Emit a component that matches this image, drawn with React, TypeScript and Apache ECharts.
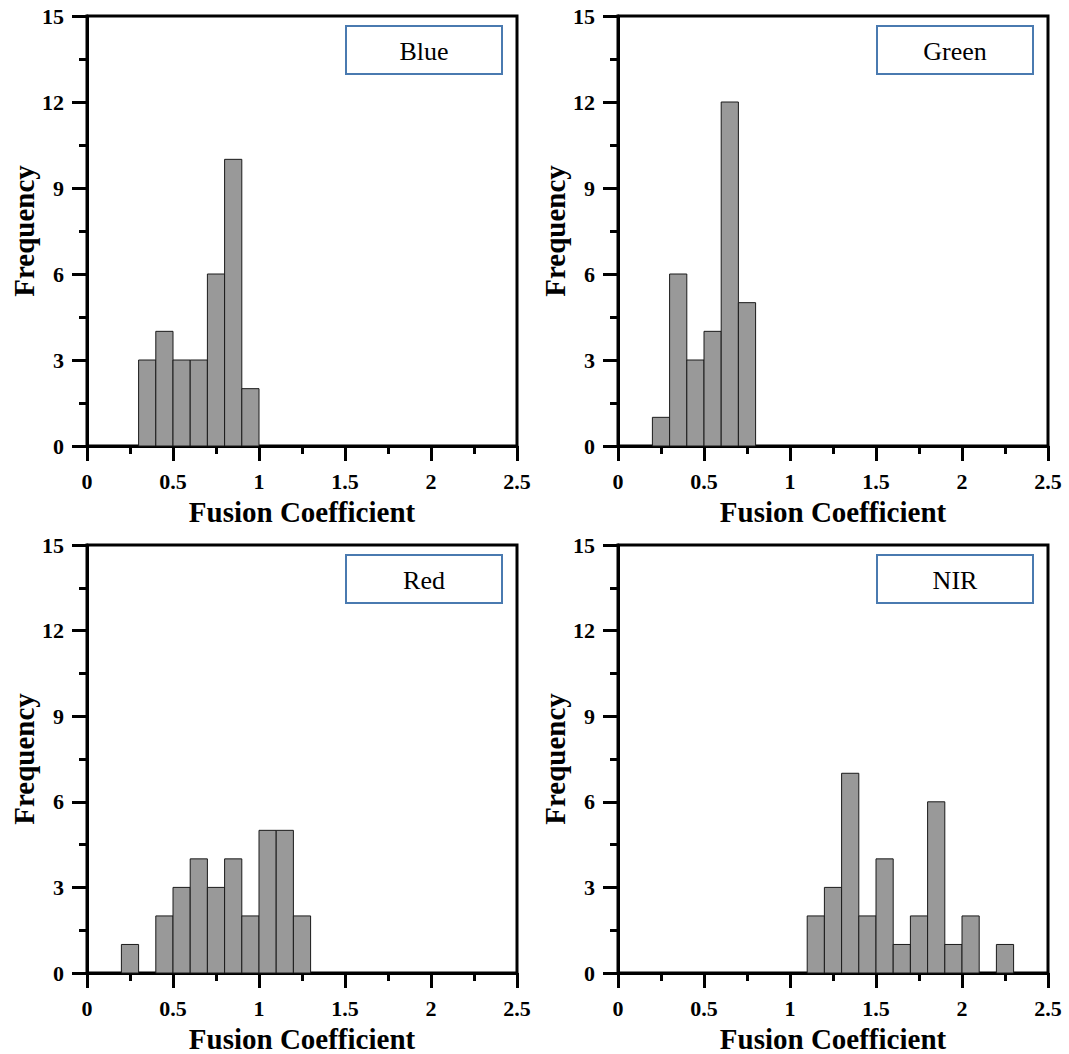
import React, { useEffect, useRef } from "react";
import * as echarts from "echarts";

const panelLabels = ["Blue", "Green", "Red", "NIR"];
const xTicks = [0, 0.5, 1, 1.5, 2, 2.5];
const yTicks = [0, 3, 6, 9, 12, 15];
const binWidth = 0.1;

const blueStarts = [0.3, 0.4, 0.5, 0.6, 0.7, 0.8, 0.9];
const blueCounts = [3, 4, 3, 3, 6, 10, 2];
const greenStarts = [0.2, 0.3, 0.4, 0.5, 0.6, 0.7];
const greenCounts = [1, 6, 3, 4, 12, 5];
const redStarts = [0.2, 0.3, 0.4, 0.5, 0.6, 0.7, 0.8, 0.9, 1.0, 1.1, 1.2];
const redCounts = [1, 0, 2, 3, 4, 3, 4, 2, 5, 5, 2];
const nirStarts = [1.1, 1.2, 1.3, 1.4, 1.5, 1.6, 1.7, 1.8, 1.9, 2.0, 2.1, 2.2];
const nirCounts = [2, 3, 7, 2, 4, 1, 2, 6, 1, 2, 0, 1];

const bandStarts = [blueStarts, greenStarts, redStarts, nirStarts];
const bandCounts = [blueCounts, greenCounts, redCounts, nirCounts];

const FONT = "Liberation Serif";

export default function App() {
  const ref = useRef<HTMLDivElement>(null);
  useEffect(() => {
    if (!ref.current) return;
    const chart = echarts.init(ref.current, null, { renderer: "svg" });
    const lefts = [87, 618, 87, 618];
    const tops = [16, 16, 545, 545];
    const size = 430;

    const grids = lefts.map((l, i) => ({
      left: l,
      top: tops[i],
      width: size,
      height: size,
      show: true,
      borderColor: "#000",
      borderWidth: 3,
      backgroundColor: "transparent",
    }));

    const labelStyle = {
      fontFamily: FONT,
      fontWeight: "bold",
      fontSize: 22,
      color: "#000",
    };
    const nameStyle = { fontFamily: FONT, fontWeight: "bold", fontSize: 29, color: "#000" };
    const lineStyleAxis = { show: true, onZero: false, lineStyle: { color: "#000", width: 3 } };
    const tickStyle = { show: true, inside: false, length: 15, lineStyle: { color: "#000", width: 3 } };
    const minorStyle = { show: true, splitNumber: 2, length: 8, lineStyle: { color: "#000", width: 3 } };

    const xAxes = lefts.map((_, i) => ({
      type: "value",
      gridIndex: i,
      min: xTicks[0],
      max: xTicks[xTicks.length - 1],
      interval: xTicks[1] - xTicks[0],
      name: "Fusion Coefficient",
      nameLocation: "middle",
      nameGap: 51,
      nameTextStyle: nameStyle,
      axisLine: lineStyleAxis,
      axisTick: tickStyle,
      minorTick: minorStyle,
      splitLine: { show: false },
      minorSplitLine: { show: false },
      axisLabel: { ...labelStyle, margin: 24, formatter: (v: number) => String(v) },
    }));

    const yAxes = lefts.map((_, i) => ({
      type: "value",
      gridIndex: i,
      min: yTicks[0],
      max: yTicks[yTicks.length - 1],
      interval: yTicks[1] - yTicks[0],
      name: "Frequency",
      nameLocation: "middle",
      nameGap: 48,
      nameTextStyle: nameStyle,
      axisLine: lineStyleAxis,
      axisTick: tickStyle,
      minorTick: minorStyle,
      splitLine: { show: false },
      minorSplitLine: { show: false },
      axisLabel: { ...labelStyle, margin: 23 },
    }));

    const series = bandStarts.map((starts, i) => ({
      type: "custom",
      xAxisIndex: i,
      yAxisIndex: i,
      encode: { x: [0, 1], y: 2 },
      data: starts
        .map((s, j) => [s, +(s + binWidth).toFixed(2), bandCounts[i][j]])
        .filter((d) => d[2] > 0),
      renderItem: (params: any, api: any) => {
        const x0 = api.value(0);
        const x1 = api.value(1);
        const y = api.value(2);
        const p0 = api.coord([x0, y]);
        const p1 = api.coord([x1, 0]);
        return {
          type: "rect",
          shape: { x: p0[0], y: p0[1], width: p1[0] - p0[0], height: p1[1] - p0[1] },
          style: { fill: "#999999", stroke: "#1a1a1a", lineWidth: 1 },
        };
      },
      z: 1,
    }));

    const graphic: any[] = [];
    lefts.forEach((l, i) => {
      const bx = l + size - 15 - 156;
      const by = tops[i] + 10;
      graphic.push({
        type: "rect",
        shape: { x: bx, y: by, width: 156, height: 48 },
        style: { fill: "#fff", stroke: "#4a7ab0", lineWidth: 2 },
        z: 10,
      });
      graphic.push({
        type: "text",
        x: bx + 78,
        y: by + 25,
        style: {
          text: panelLabels[i],
          fontFamily: FONT,
          fontSize: 26,
          fill: "#000",
          align: "center",
          verticalAlign: "middle",
        },
        z: 11,
      });
    });

    chart.setOption({
      animation: false,
      backgroundColor: "#fff",
      grid: grids,
      xAxis: xAxes,
      yAxis: yAxes,
      series,
      graphic,
    } as any);
    return () => chart.dispose();
  }, []);
  return (
    <div
      ref={ref}
      style={{ position: "absolute", left: 0, top: 0, width: 1069, height: 1054 }}
    />
  );
}
